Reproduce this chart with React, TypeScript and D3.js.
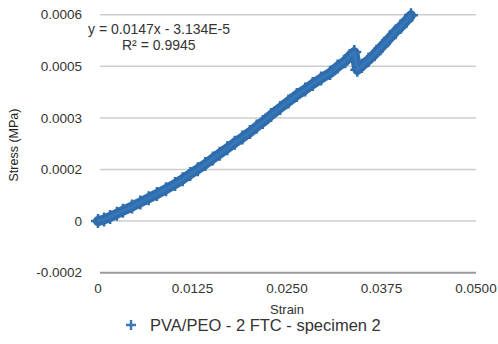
import React from "react";
import * as d3 from "d3";

const strain = [0, 0.0008, 0.0016, 0.0025, 0.0033, 0.0045, 0.0056, 0.0067, 0.0078, 0.009, 0.0102, 0.0112, 0.0122, 0.0132, 0.0142, 0.0152, 0.0161, 0.0171, 0.0181, 0.0191, 0.0201, 0.021, 0.0218, 0.0229, 0.0241, 0.0252, 0.0263, 0.0274, 0.0284, 0.0295, 0.0307, 0.0317, 0.0327, 0.0333, 0.0339, 0.0343, 0.0349, 0.0358, 0.0366, 0.0376, 0.0386, 0.0394, 0.04, 0.0408, 0.0414];
const stress = [0, 0.000005, 0.000013, 0.000023, 0.000032, 0.000045, 0.000058, 0.000071, 0.000084, 0.000099, 0.000115, 0.00013, 0.000146, 0.000161, 0.000177, 0.000194, 0.000209, 0.000226, 0.000243, 0.000259, 0.000276, 0.000293, 0.000307, 0.000329, 0.000351, 0.000371, 0.000391, 0.000408, 0.000425, 0.000442, 0.000459, 0.000479, 0.000496, 0.000512, 0.000524, 0.000469, 0.000481, 0.0005, 0.000518, 0.000543, 0.000568, 0.000589, 0.000602, 0.000622, 0.000638];

const xTickValues = [0, 0.0125, 0.025, 0.0375, 0.05];
const xTickLabels = ["0", "0.0125", "0.0250", "0.0375", "0.0500"];
const yTickValues = [-0.00016, 0, 0.00016, 0.00032, 0.00048, 0.00064];
const yTickLabels = ["-0.0002", "0", "0.0002", "0.0003", "0.0005", "0.0006"];

const seriesName = "PVA/PEO - 2 FTC - specimen 2";
const equationText = "y = 0.0147x - 3.134E-5";
const r2Text = "R² = 0.9945";
const xTitle = "Strain";
const yTitle = "Stress (MPa)";

const FONT = "'Liberation Sans', Arial, Helvetica, sans-serif";
const BLUE = "#2f6dad";

export default function App() {
  const x = d3.scaleLinear().domain([0, 0.05]).range([98, 476]);
  const y = d3.scaleLinear().domain([-0.00016, 0.00064]).range([272.7, 14.7]);
  const pts = strain.map((s, i) => [s, stress[i]] as [number, number]);
  const line = d3
    .line<[number, number]>()
    .x((d) => x(d[0]))
    .y((d) => y(d[1]));

  const plusPath = (cx: number, cy: number, r: number) =>
    `M${cx - r},${cy}L${cx + r},${cy}M${cx},${cy - r}L${cx},${cy + r}`;

  return (
    <svg
      width={498}
      height={344}
      style={{ position: "absolute", left: 0, top: 0, background: "#fff" }}
      fontFamily={FONT}
    >
      {yTickValues.map((v, i) => (
        <line
          key={"g" + i}
          x1={100}
          x2={476}
          y1={y(v)}
          y2={y(v)}
          stroke={i === 0 ? "#9a9a9a" : "#cdcdcd"}
          strokeWidth={i === 0 ? 2 : 1.5}
        />
      ))}
      {yTickValues.map((v, i) => (
        <text
          key={"yl" + i}
          x={82}
          y={y(v)}
          dy="0.35em"
          textAnchor="end"
          fontSize={13.5}
          fill="#333"
        >
          {yTickLabels[i]}
        </text>
      ))}
      {xTickValues.map((v, i) => (
        <text
          key={"xl" + i}
          x={x(v)}
          y={293}
          textAnchor="middle"
          fontSize={13.5}
          fill="#333"
        >
          {xTickLabels[i]}
        </text>
      ))}
      <text x={287} y={314} textAnchor="middle" fontSize={13} fill="#333">
        {xTitle}
      </text>
      <text
        transform="translate(18,145) rotate(-90)"
        textAnchor="middle"
        fontSize={12.5}
        fill="#222"
      >
        {yTitle}
      </text>

      <path
        d={line(pts) || ""}
        fill="none"
        stroke={BLUE}
        strokeWidth={10}
        strokeLinejoin="round"
        strokeLinecap="round"
      />
      {pts.map((d, i) => (
        <path
          key={"m" + i}
          d={plusPath(x(d[0]), y(d[1]), 7)}
          stroke={BLUE}
          strokeWidth={2.5}
          fill="none"
        />
      ))}
      <path
        d={line(pts) || ""}
        fill="none"
        stroke="#3e7fbf"
        strokeWidth={3}
        strokeLinejoin="round"
        opacity={0.6}
      />

      <text x={88} y={34} fontSize={14} fill="#333">
        {equationText}
      </text>
      <text x={122} y={50} fontSize={14} fill="#333">
        {r2Text}
      </text>

      <path d={plusPath(131, 325, 5)} stroke="#3b78b6" strokeWidth={2.5} />
      <text x={150} y={331} fontSize={16.5} fill="#333">
        {seriesName}
      </text>
    </svg>
  );
}
